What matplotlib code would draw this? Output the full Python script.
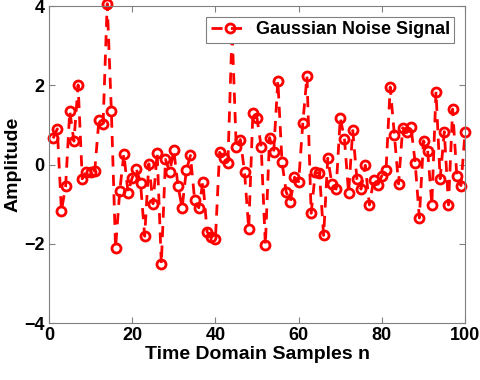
import matplotlib.pyplot as plt
import numpy as np

plt.rcParams['font.family'] = ['Liberation Sans', 'DejaVu Sans']
plt.rcParams['font.weight'] = 'bold'

samples = np.arange(1, 101)
amplitude = [
    0.66, 0.90, -1.17, -0.55, 1.35, 0.59, 2.01, -0.36, -0.18, -0.20,
    -0.16, 1.12, 1.02, 4.06, 1.34, -2.11, -0.68, 0.27, -0.71, -0.33,
    -0.11, -0.46, -1.81, 0.02, -0.99, 0.30, -2.51, 0.13, -0.19, 0.36,
    -0.54, -1.09, -0.15, 0.23, -0.89, -1.09, -0.44, -1.70, -1.83, -1.88,
    0.31, 0.17, 0.05, 3.40, 0.44, 0.63, -0.20, -1.62, 1.29, 1.17,
    0.44, -2.04, 0.68, 0.32, 2.12, 0.06, -0.69, -0.94, -0.32, -0.43,
    1.05, 2.23, -1.23, -0.20, -0.22, -1.79, 0.16, -0.50, -0.62, 1.18,
    0.65, -0.72, 0.86, -0.37, -0.62, -0.02, -1.02, -0.40, -0.52, -0.28,
    -0.13, 1.96, 0.75, -0.49, 0.93, 0.81, 0.95, 0.04, -1.35, 0.60,
    0.35, -1.01, 1.84, -0.36, 0.83, -1.02, 1.40, -0.28, -0.53, 0.83,
]

fig = plt.figure(figsize=(4.8, 3.8), dpi=100)
ax = fig.add_axes([0.102, 0.15, 0.867, 0.834])

ax.plot(samples, amplitude, '--o', color='red', linewidth=2,
        markersize=6.5, markerfacecolor='none', markeredgewidth=2,
        dashes=(4, 3), label='Gaussian Noise Signal', clip_on=False)

ax.set_xlim(0, 100)
ax.set_ylim(-4, 4)
ax.set_xticks(np.arange(0, 101, 20))
ax.set_yticks(np.arange(-4, 5, 2))
ax.tick_params(direction='in', top=True, right=True, labelsize=13,
               color='#808080', length=4, pad=3)
for s in ax.spines.values():
    s.set_color('#808080')
    s.set_linewidth(0.8)

ax.set_xlabel('Time Domain Samples n', fontsize=14, fontweight='bold', labelpad=1)
ax.set_ylabel('Amplitude', fontsize=14, fontweight='bold', labelpad=2)

leg = ax.legend(loc='upper right', fontsize=13, fancybox=False, framealpha=1,
                edgecolor='#808080', borderpad=0.25, handlelength=2.2,
                handletextpad=0.3, borderaxespad=0.6)
leg.get_frame().set_linewidth(0.8)

fig.savefig('out.png', dpi=100)
